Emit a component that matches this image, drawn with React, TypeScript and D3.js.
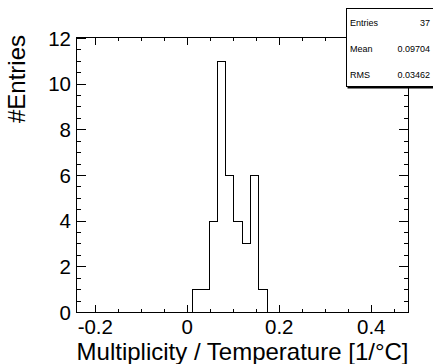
import React from "react";
import * as d3 from "d3";

const xMin = -0.242;
const xMax = 0.481;
const nBins = 40;
const counts = [
  0, 0, 0, 0, 0, 0, 0, 0, 0, 0, 0, 0, 0, 0,
  1, 1, 4, 11, 6, 4, 3, 6, 1,
  0, 0, 0, 0, 0, 0, 0, 0, 0, 0, 0, 0, 0, 0, 0, 0, 0,
];
const yMax = 12.06;
const xMajorTicks = [-0.2, 0, 0.2, 0.4];
const xTickLabels = ["-0.2", "0", "0.2", "0.4"];
const yMajorTicks = [0, 2, 4, 6, 8, 10, 12];
const statLabels = ["Entries", "Mean", "RMS"];
const statValues = ["37", "0.09704", "0.03462"];
const xTitle = "Multiplicity / Temperature [1/\u00b0C]";
const yTitle = "#Entries";

const W = 433;
const H = 364;
const L = 76;
const R = 408.5;
const T = 37;
const B = 312.5;
const font = "'Liberation Sans', Arial, Helvetica, sans-serif";

export default function App() {
  const x = d3.scaleLinear().domain([xMin, xMax]).range([L, R]);
  const y = d3.scaleLinear().domain([0, yMax]).range([B, T]);
  const bw = (xMax - xMin) / nBins;

  let d = `M${x(xMin)},${y(0)}`;
  counts.forEach((c, i) => {
    const x0 = x(xMin + i * bw);
    const x1 = x(xMin + (i + 1) * bw);
    d += `L${x0},${y(c)}L${x1},${y(c)}`;
  });
  d += `L${x(xMax)},${y(0)}`;

  const xMinor = d3.range(-0.25, 0.5001, 0.05).filter((v) => v >= xMin && v <= xMax && !xMajorTicks.some((m) => Math.abs(m - v) < 1e-6));
  const yMinor = d3.range(0, yMax, 0.5).filter((v) => !yMajorTicks.some((m) => Math.abs(m - v) < 1e-6));

  const xMajLen = 8;
  const xMinLen = 4;
  const yMajLen = 10;
  const yMinLen = 5;

  return (
    <svg width={W} height={H} style={{ position: "absolute", left: 0, top: 0, background: "#fff" }} fontFamily={font}>
      <rect x={0} y={0} width={W} height={H} fill="#fff" />
      <path d={d} fill="none" stroke="#000" strokeWidth={1} shapeRendering="crispEdges" />
      <rect x={L} y={T} width={R - L} height={B - T} fill="none" stroke="#000" strokeWidth={1} shapeRendering="crispEdges" />
      <g stroke="#000" strokeWidth={1} shapeRendering="crispEdges">
        {xMajorTicks.map((v) => (
          <g key={"xM" + v}>
            <line x1={x(v)} x2={x(v)} y1={B} y2={B - xMajLen} />
            <line x1={x(v)} x2={x(v)} y1={T} y2={T + xMajLen} />
          </g>
        ))}
        {xMinor.map((v) => (
          <g key={"xm" + v}>
            <line x1={x(v)} x2={x(v)} y1={B} y2={B - xMinLen} />
            <line x1={x(v)} x2={x(v)} y1={T} y2={T + xMinLen} />
          </g>
        ))}
        {yMajorTicks.map((v) => (
          <g key={"yM" + v}>
            <line x1={L} x2={L + yMajLen} y1={y(v)} y2={y(v)} />
            <line x1={R} x2={R - yMajLen} y1={y(v)} y2={y(v)} />
          </g>
        ))}
        {yMinor.map((v) => (
          <g key={"ym" + v}>
            <line x1={L} x2={L + yMinLen} y1={y(v)} y2={y(v)} />
            <line x1={R} x2={R - yMinLen} y1={y(v)} y2={y(v)} />
          </g>
        ))}
      </g>
      <g fontSize={20.5} fill="#000">
        {xMajorTicks.map((v, i) => (
          <text key={"xl" + v} x={x(v)} y={333.5} textAnchor="middle">
            {xTickLabels[i]}
          </text>
        ))}
        {yMajorTicks.map((v) => (
          <text key={"yl" + v} x={71} y={y(v) + 7.3} textAnchor="end">
            {v}
          </text>
        ))}
      </g>
      <text x={R} y={359.5} textAnchor="end" fontSize={24} fill="#000">
        {xTitle}
      </text>
      <text transform={`translate(25,35) rotate(-90)`} textAnchor="end" fontSize={24} fill="#000">
        {yTitle}
      </text>
      <rect x={347.5} y={9.5} width={90} height={79} fill="#000" />
      <rect x={346.5} y={8.5} width={90} height={78} fill="#fff" stroke="#000" strokeWidth={1} shapeRendering="crispEdges" />
      <g fontSize={9} fill="#000">
        {statLabels.map((s, i) => (
          <g key={s}>
            <text x={350} y={25.5 + i * 26.3}>{s}</text>
            <text x={430} y={25.5 + i * 26.3} textAnchor="end">{statValues[i]}</text>
          </g>
        ))}
      </g>
    </svg>
  );
}
